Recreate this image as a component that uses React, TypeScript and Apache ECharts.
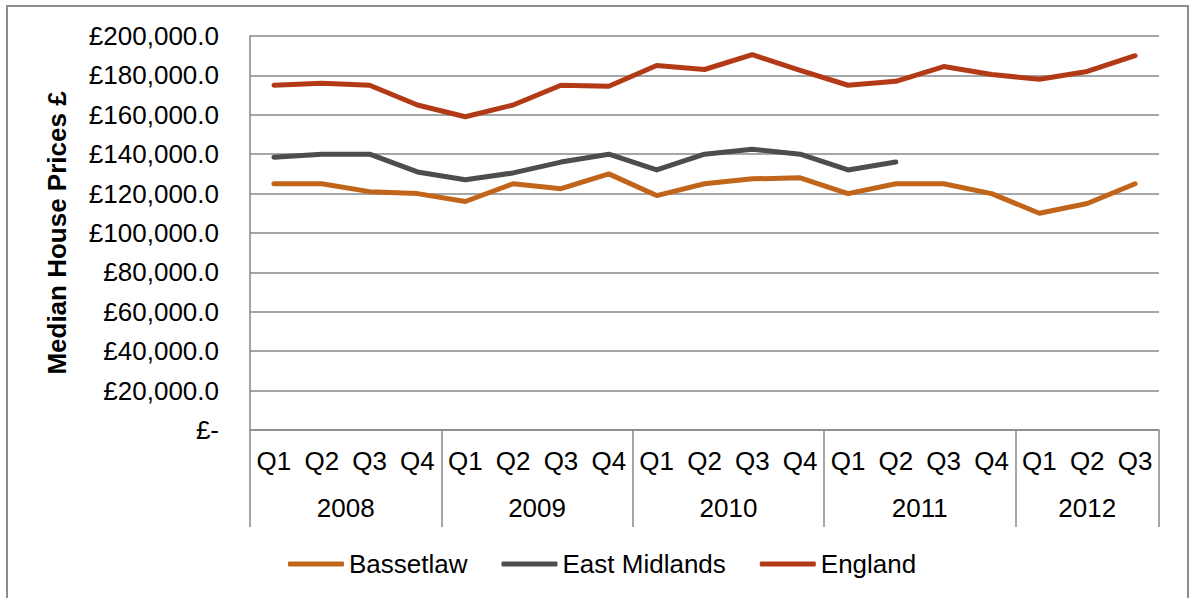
import React, { useEffect, useRef } from "react";
import * as echarts from "echarts";

// Quarterly median house prices (£), 2008 Q1 – 2012 Q3
const years = ["2008", "2009", "2010", "2011", "2012"];
const quartersPerYear = [4, 4, 4, 4, 3];
const quarterLabels = [
  "Q1", "Q2", "Q3", "Q4",
  "Q1", "Q2", "Q3", "Q4",
  "Q1", "Q2", "Q3", "Q4",
  "Q1", "Q2", "Q3", "Q4",
  "Q1", "Q2", "Q3",
];

const bassetlaw = [
  125000, 125000, 121000, 120000,
  116000, 125000, 122500, 130000,
  119000, 125000, 127500, 128000,
  120000, 125000, 125000, 120000,
  110000, 115000, 125000,
];

const eastMidlands = [
  138500, 140000, 140000, 131000,
  127000, 130500, 136000, 140000,
  132000, 140000, 142500, 140000,
  132000, 136000, null, null,
  null, null, null,
];

const england = [
  175000, 176000, 175000, 165000,
  159000, 165000, 175000, 174500,
  185000, 183000, 190500, 182500,
  175000, 177000, 184500, 180500,
  178000, 182000, 190000,
];

const seriesNames = ["Bassetlaw", "East Midlands", "England"];
const seriesColors = ["#C0651A", "#4D4D4D", "#B33A16"];

const FONT = "Liberation Sans, Arial, sans-serif";
const GRID_GREY = "#898989";

// The year row uses half-quarter slots so that each year's label can sit
// at the middle of its group and the separators at the group boundaries.
const halfSlots = quarterLabels.length * 2;
const yearSlots: string[] = new Array(halfSlots + 1).fill("");
const yearBoundaries = new Set<number>([0]);
{
  let start = 0;
  years.forEach((y, i) => {
    const n = quartersPerYear[i];
    yearSlots[start + n] = y; // centre of group in half-slot units
    start += n * 2;
    yearBoundaries.add(start);
  });
}

function formatPounds(v: number): string {
  if (v === 0) return "£-";
  return "£" + v.toLocaleString("en-GB") + ".0";
}

export default function App() {
  const ref = useRef<HTMLDivElement>(null);

  useEffect(() => {
    if (!ref.current) return;
    const chart = echarts.init(ref.current, undefined, { renderer: "svg" });
    const lineData = [bassetlaw, eastMidlands, england];

    chart.setOption({
      animation: false,
      textStyle: { fontFamily: FONT },
      graphic: [
        {
          type: "rect",
          shape: { x: 7, y: 6, width: 1181, height: 600 },
          style: { fill: "none", stroke: "#8c8c8c", lineWidth: 2 },
          silent: true,
        },
      ],
      grid: { left: 250, right: 34, top: 36, bottom: 168, containLabel: false },
      legend: {
        data: seriesNames.map((name) => ({ name, icon: "roundRect" })),
        left: 283,
        top: 546,
        itemWidth: 56,
        itemHeight: 5,
        itemGap: 34,
        textStyle: { fontSize: 26, color: "#000", fontFamily: FONT },
      },
      xAxis: [
        {
          type: "category",
          data: quarterLabels,
          boundaryGap: true,
          axisLine: { show: true, lineStyle: { color: GRID_GREY, width: 1.5 } },
          axisTick: { show: false },
          axisLabel: {
            interval: 0,
            margin: 18,
            fontSize: 26,
            color: "#000",
            fontFamily: FONT,
          },
          splitLine: { show: false },
        },
        {
          type: "category",
          data: yearSlots,
          boundaryGap: false,
          position: "bottom",
          axisLine: { show: false },
          axisTick: {
            show: true,
            length: 97,
            interval: (i: number) => yearBoundaries.has(i),
            lineStyle: { color: GRID_GREY, width: 1.5 },
          },
          axisLabel: {
            interval: (i: number, v: string) => v !== "",
            margin: 65,
            fontSize: 26,
            color: "#000",
            fontFamily: FONT,
          },
          splitLine: { show: false },
        },
      ],
      yAxis: {
        type: "value",
        min: 0,
        max: 200000,
        interval: 20000,
        name: "Median House Prices £",
        nameLocation: "middle",
        nameRotate: 90,
        nameGap: 180,
        nameTextStyle: {
          fontSize: 26,
          fontWeight: "bold",
          color: "#000",
          fontFamily: FONT,
        },
        axisLine: { show: true, lineStyle: { color: GRID_GREY, width: 1.5 } },
        axisTick: { show: false },
        axisLabel: {
          margin: 31,
          fontSize: 26,
          color: "#000",
          fontFamily: FONT,
          formatter: (v: number) => formatPounds(v),
        },
        splitLine: { show: true, lineStyle: { color: GRID_GREY, width: 1.5 } },
      },
      series: seriesNames.map((name, i) => ({
        name,
        type: "line",
        xAxisIndex: 0,
        data: lineData[i],
        symbol: "none",
        connectNulls: false,
        color: seriesColors[i],
        itemStyle: { color: seriesColors[i] },
        lineStyle: { color: seriesColors[i], width: 5, cap: "round", join: "round" },
        z: 3,
      })),
    });

    return () => chart.dispose();
  }, []);

  return (
    <div
      ref={ref}
      style={{ position: "absolute", left: 0, top: 0, width: 1193, height: 598, background: "#fff" }}
    />
  );
}
